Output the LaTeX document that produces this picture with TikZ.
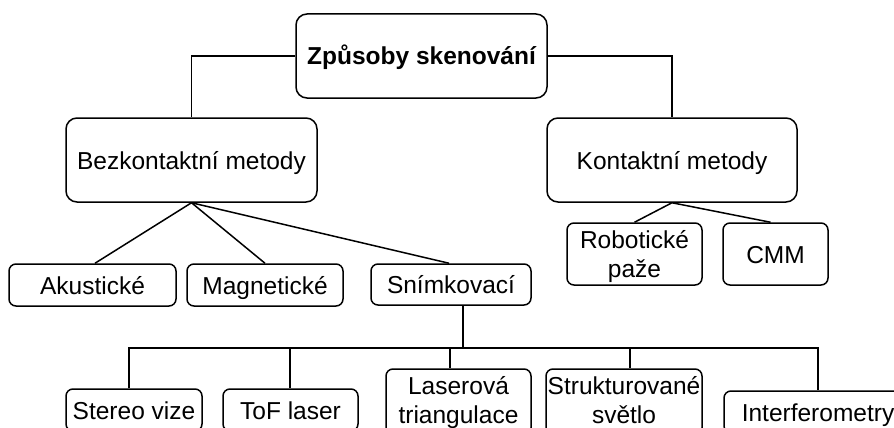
\documentclass[tikz,border=0pt]{standalone}
\usepackage{fontspec}
\setmainfont{Liberation Sans}
\begin{document}
\begin{tikzpicture}[x=1pt,y=-1pt,
  every node/.style={font=\fontsize{24.5}{29}\selectfont, inner sep=0pt, align=center,
                     text height=18pt, text depth=0pt},
  twolines/.style={text height=47pt, text depth=0pt},
  twolineslow/.style={text height=47pt, text depth=4pt},
  bigbox/.style={draw, line width=1.5pt, rounded corners=11pt},
  smallbox/.style={draw, line width=1.5pt, rounded corners=7pt},
  link/.style={line width=1.5pt}]
\clip (0,0) rectangle (894,428);

% root and the two main groups
\node[bigbox, minimum width=251pt, minimum height=84pt, font=\fontsize{24.5}{29}\selectfont\bfseries] (root) at (421.5,56) {Způsoby skenování};
\node[bigbox, minimum width=251pt, minimum height=84pt] (bez) at (191.5,160) {Bezkontaktní metody};
\node[bigbox, minimum width=250pt, minimum height=84pt] (kon) at (672,160) {Kontaktní metody};

% non-contact methods
\node[smallbox, minimum width=167pt, minimum height=42pt] (aku) at (92.5,285) {Akustické};
\node[smallbox, minimum width=156pt, minimum height=42pt] (mag) at (265,285) {Magnetické};
\node[smallbox, minimum width=160pt, minimum height=41pt] (snim) at (451,284.5) {Snímkovací};

% contact methods
\node[smallbox, twolines, minimum width=135pt, minimum height=62pt] (rob) at (634.5,254) {Robotické\\paže};
\node[smallbox, minimum width=105pt, minimum height=62pt] (cmm) at (775.5,254) {CMM};

% imaging techniques
\node[smallbox, minimum width=136pt, minimum height=42pt] (stereo) at (134,410) {Stereo vize};
\node[smallbox, minimum width=135pt, minimum height=42pt] (tof) at (290.5,410) {ToF laser};
\node[smallbox, twolineslow, minimum width=145pt, minimum height=66pt] (laser) at (458.5,402) {Laserová\\triangulace};
\node[smallbox, twolineslow, minimum width=156pt, minimum height=66pt] (struk) at (624,402) {Strukturované\\světlo};
\node[smallbox, minimum width=188pt, minimum height=42pt] (inter) at (818,412) {Interferometry};

% connectors
\draw[link] (root.west) -| (bez.north);
\draw[link] (root.east) -| (kon.north);

\draw[link] (bez.south) -- ([xshift=2.5pt]aku.north);
\draw[link] (bez.south) -- (mag.north);
\draw[link] (bez.south) -- ([xshift=-2pt]snim.north);

\draw[link] (kon.south) -- (rob.north);
\draw[link] (kon.south) -- ([xshift=-5pt]cmm.north);

\coordinate (bus) at (463,348);
\draw[link] ([xshift=12pt]snim.south) -- (bus);
\draw[link] ([xshift=-5pt]stereo.north) |- (bus) -| (inter.north);
\draw[link] ([xshift=-0.5pt]tof.north) -- ([xshift=-0.5pt]tof.north |- bus);
\draw[link] ([xshift=-8.5pt]laser.north) -- ([xshift=-8.5pt]laser.north |- bus);
\draw[link] ([xshift=6pt]struk.north) -- ([xshift=6pt]struk.north |- bus);
\end{tikzpicture}
\end{document}
